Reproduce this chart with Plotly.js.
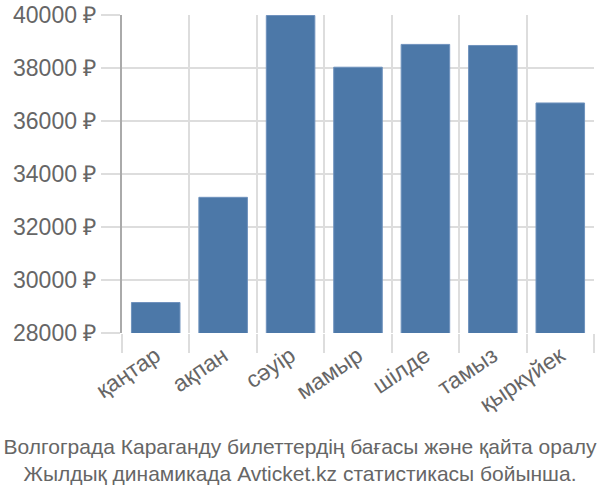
<!DOCTYPE html>
<html>
<head>
<meta charset="utf-8">
<script src="https://cdn.plot.ly/plotly-3.0.1.min.js"></script>
<style>html,body{margin:0;padding:0;background:#fff;}#chart{width:600px;height:500px;}</style>
</head>
<body>
<div id="chart"></div>
<script>
const months = ["қаңтар", "ақпан", "сәуір", "мамыр", "шілде", "тамыз", "қыркүйек"];
const prices = [29150, 33120, 39980, 38030, 38890, 38850, 36680];
const yTicks = [28000, 30000, 32000, 34000, 36000, 38000, 40000];
const yTickText = yTicks.map(v => v + " ₽");
const titleLines = ["Волгограда Караганду билеттердің бағасы және қайта оралу", "Жылдық динамикада Avticket.kz статистикасы бойынша."];

const font = "Liberation Sans, Arial, sans-serif";
Plotly.newPlot("chart", [{
  type: "bar",
  x: months,
  y: prices,
  marker: {color: "#4c78a8", line: {color: "#6f92bd", width: 1}},
  hoverinfo: "x+y"
}], {
  width: 600, height: 500,
  margin: {l: 122, r: 6, t: 15, b: 167},
  paper_bgcolor: "#fff", plot_bgcolor: "#fff",
  bargap: 0.28,
  showlegend: false,
  title: {
    text: titleLines.join("<br>"),
    xref: "container", yref: "container",
    x: 0.5, xanchor: "center",
    y: 0.092, yanchor: "top",
    font: {family: font, size: 21, color: "#666"}
  },
  xaxis: {
    type: "category",
    tickson: "boundaries",
    showgrid: true, gridcolor: "#dddddd", gridwidth: 2,
    ticks: "outside", ticklen: 19, tickcolor: "#dddddd", tickwidth: 2,
    tickangle: -34,
    ticklabelstandoff: 4,
    tickfont: {family: font, size: 23, color: "#666"},
    showline: false, zeroline: false
  },
  yaxis: {
    range: [28000, 40000],
    tickvals: yTicks, ticktext: yTickText,
    showgrid: true, gridcolor: "#dddddd", gridwidth: 2,
    ticks: "outside", ticklen: 19, tickcolor: "#dddddd", tickwidth: 2,
    ticklabelstandoff: 0,
    tickfont: {family: font, size: 23, color: "#666"},
    showline: true, linecolor: "#aaaaaa", linewidth: 2,
    zeroline: false
  }
}, {displayModeBar: false, staticPlot: true});
</script>
</body>
</html>
